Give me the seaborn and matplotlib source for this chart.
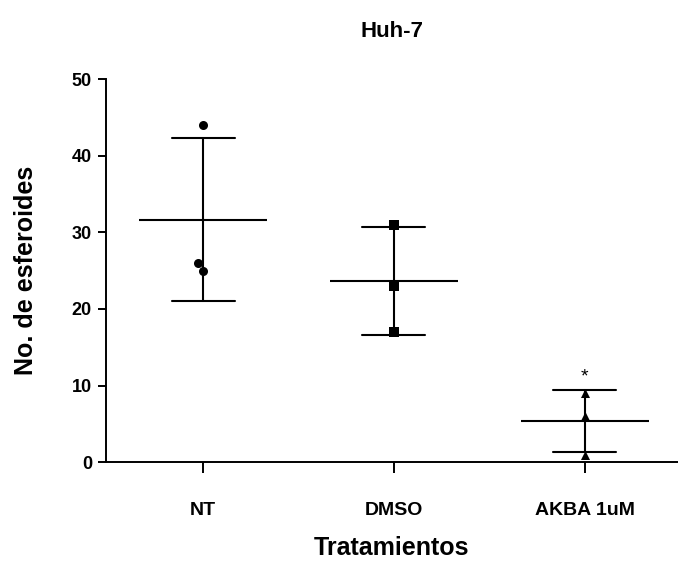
import numpy as np
import pandas as pd
import matplotlib
matplotlib.use('Agg')
import matplotlib.pyplot as plt
import seaborn as sns

sns.set_style('ticks')
plt.rcParams['font.family'] = ['Liberation Sans', 'DejaVu Sans']
plt.rcParams['font.weight'] = 'bold'
for k in ['text.color', 'axes.labelcolor', 'xtick.color', 'ytick.color', 'axes.edgecolor']:
    plt.rcParams[k] = 'black'

# ----------------------------
# Data
# ----------------------------
categories = ['NT', 'DMSO', 'AKBA 1uM']
nt_values = [44, 25, 26]
dmso_values = [31, 23, 17]
akba_values = [9, 6, 1]
markers = ['o', 's', '^']
y_ticks = [0, 10, 20, 30, 40, 50]

df = pd.DataFrame({
    'grupo': ['NT'] * 3 + ['DMSO'] * 3 + ['AKBA 1uM'] * 3,
    'esferoides': nt_values + dmso_values + akba_values,
})

# ----------------------------
# Plot
# ----------------------------
fig = plt.figure(figsize=(6.78, 5.65), dpi=100)
ax = fig.add_axes([0.156, 0.182, 0.844, 0.678])

# mean line + SD bars
sns.pointplot(data=df, x='grupo', y='esferoides', order=categories,
              errorbar='sd', capsize=0.33, linestyle='none', marker='_',
              markersize=92, markeredgewidth=1.5, color='black',
              err_kws={'linewidth': 1.5}, ax=ax)

# individual points
for cat, m in zip(categories, markers):
    sub = df[df['grupo'] == cat]
    sns.swarmplot(data=sub, x='grupo', y='esferoides', order=categories,
                  marker=m, color='black', size=6.5, ax=ax, zorder=5)

# significance mark
akba = df[df['grupo'] == 'AKBA 1uM']['esferoides']
ax.text(2, akba.mean() + akba.std() + 0.6, '*', ha='center', va='bottom',
        fontsize=14, fontweight='normal')

ax.set_xlim(-0.51, 2.49)
ax.set_ylim(0, 50)
ax.set_yticks(y_ticks)
sns.despine(ax=ax)
for s in ['left', 'bottom']:
    ax.spines[s].set_linewidth(1.4)
ax.tick_params(axis='y', length=6, width=1.4, labelsize=13, pad=4)
ax.tick_params(axis='x', length=8, width=1.4, labelsize=14, pad=21)
for lbl in ax.get_xticklabels() + ax.get_yticklabels():
    lbl.set_fontweight('bold')

ax.set_title('Huh-7', fontsize=16, fontweight='bold', pad=30)
ax.set_xlabel('Tratamientos', fontsize=18, fontweight='bold', labelpad=12)
ax.set_ylabel('No. de esferoides', fontsize=18, fontweight='bold', labelpad=24)

fig.savefig('out.png', dpi=100)
